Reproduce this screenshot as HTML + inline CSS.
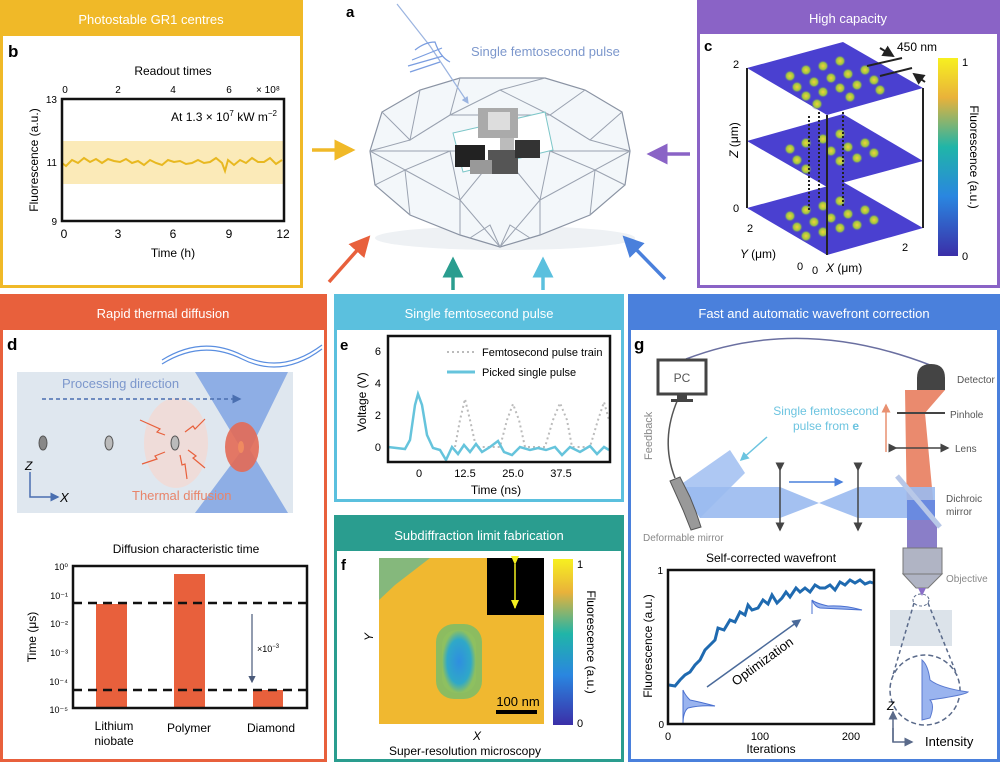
<!DOCTYPE html>
<html><head><meta charset="utf-8"><style>
body{margin:0;background:#fff;}
svg{display:block;font-family:"Liberation Sans",sans-serif;}
</style></head><body>
<svg width="1000" height="762" viewBox="0 0 1000 762" xmlns="http://www.w3.org/2000/svg">
<defs>
<linearGradient id="cb" x1="0" y1="1" x2="0" y2="0">
<stop offset="0" stop-color="#3b2fa8"/><stop offset="0.3" stop-color="#2a86e0"/><stop offset="0.55" stop-color="#20b5a8"/><stop offset="0.8" stop-color="#e9b23a"/><stop offset="1" stop-color="#f7f020"/></linearGradient>
<radialGradient id="dot"><stop offset="0" stop-color="#f2d23a"/><stop offset="0.6" stop-color="#9cc640"/><stop offset="1" stop-color="#3e3cc8" stop-opacity="0"/></radialGradient>
<radialGradient id="blob" cx="0.5" cy="0.5" r="0.5"><stop offset="0" stop-color="#2f8ee0"/><stop offset="0.7" stop-color="#2fa8c8"/><stop offset="1" stop-color="#8ec060"/></radialGradient>
<marker id="ah" markerWidth="6" markerHeight="6" refX="5" refY="3" orient="auto"><path d="M0,0 L6,3 L0,6 z" fill="context-stroke"/></marker>
<marker id="sh" markerWidth="10" markerHeight="10" refX="8" refY="5" orient="auto" markerUnits="userSpaceOnUse"><path d="M0,1 L9,5 L0,9 z" fill="#f4f020"/></marker>
</defs>

<!-- Panel b -->
<rect x="1.5" y="1.5" width="300" height="285" fill="#fff" stroke="#f0b928" stroke-width="3"/>
<rect x="0" y="0" width="303" height="36" fill="#f0b928"/>
<text x="151" y="24" font-size="13" fill="#fff" text-anchor="middle">Photostable GR1 centres</text>
<text x="8" y="57" font-size="17" font-weight="bold">b</text>
<text x="173" y="75" font-size="12" text-anchor="middle">Readout times</text>
<g font-size="10" text-anchor="middle"><text x="65" y="93">0</text><text x="118" y="93">2</text><text x="173" y="93">4</text><text x="229" y="93">6</text><text x="268" y="93">× 10⁸</text></g>
<rect x="62" y="141" width="222" height="43" fill="#fbeab8"/>
<polyline fill="none" stroke="#e8b820" stroke-width="2" points="62,163 66,166 72,160 78,163 84,158 90,162 96,159 102,163 108,159 114,161 120,162 126,159 132,163 138,161 144,165 150,160 156,163 162,165 168,160 174,162 180,161 186,164 192,163 198,160 204,163 210,162 216,158 222,163 225,171 228,160 234,165 240,160 246,163 252,158 258,162 264,162 270,158 276,164 282,160"/>
<rect x="62" y="99" width="222" height="122" fill="none" stroke="#111" stroke-width="2.5"/>
<text x="277" y="121" font-size="12" text-anchor="end">At 1.3 × 10<tspan font-size="8" dy="-5">7</tspan><tspan dy="5"> kW m</tspan><tspan font-size="8" dy="-5">−2</tspan></text>
<g font-size="10" text-anchor="end"><text x="57" y="103">13</text><text x="57" y="166">11</text><text x="57" y="225">9</text></g>
<g font-size="12" text-anchor="middle"><text x="64" y="238">0</text><text x="118" y="238">3</text><text x="173" y="238">6</text><text x="229" y="238">9</text><text x="283" y="238">12</text></g>
<text x="173" y="257" font-size="12" text-anchor="middle">Time (h)</text>
<text transform="translate(38,160) rotate(-90)" font-size="12" text-anchor="middle">Fluorescence (a.u.)</text>

<!-- Panel c -->
<rect x="698.5" y="1.5" width="300" height="285" fill="#fff" stroke="#8a63c6" stroke-width="3"/>
<rect x="697" y="0" width="303" height="34" fill="#8a63c6"/>
<text x="848" y="23" font-size="13" fill="#fff" text-anchor="middle">High capacity</text>
<text x="704" y="51" font-size="15" font-weight="bold">c</text>
<g>
<polygon points="747,208 843,182 923,228 827,255" fill="#4a40d0"/>
<polygon points="747,141 843,114 923,161 827,187" fill="#4a40d0"/>
<polygon points="747,68 843,42 923,88 827,115" fill="#4a40d0"/>
</g>
<g fill="url(#dot)">
<circle cx="790" cy="76" r="6"/><circle cx="806" cy="70" r="6"/><circle cx="823" cy="66" r="6"/><circle cx="840" cy="61" r="6"/>
<circle cx="797" cy="87" r="6"/><circle cx="814" cy="82" r="6"/><circle cx="831" cy="78" r="6"/><circle cx="848" cy="74" r="6"/><circle cx="865" cy="70" r="6"/>
<circle cx="806" cy="96" r="6"/><circle cx="823" cy="92" r="6"/><circle cx="840" cy="88" r="6"/><circle cx="857" cy="85" r="6"/><circle cx="874" cy="80" r="6"/>
<circle cx="817" cy="104" r="6"/><circle cx="850" cy="97" r="6"/><circle cx="880" cy="90" r="6"/>
<circle cx="790" cy="149" r="6"/><circle cx="806" cy="143" r="6"/><circle cx="823" cy="139" r="6"/><circle cx="840" cy="134" r="6"/>
<circle cx="797" cy="160" r="6"/><circle cx="831" cy="151" r="6"/><circle cx="848" cy="147" r="6"/><circle cx="865" cy="143" r="6"/>
<circle cx="806" cy="169" r="6"/><circle cx="840" cy="161" r="6"/><circle cx="857" cy="158" r="6"/><circle cx="874" cy="153" r="6"/>
<circle cx="790" cy="216" r="6"/><circle cx="806" cy="210" r="6"/><circle cx="823" cy="206" r="6"/><circle cx="840" cy="201" r="6"/>
<circle cx="797" cy="227" r="6"/><circle cx="814" cy="222" r="6"/><circle cx="831" cy="218" r="6"/><circle cx="848" cy="214" r="6"/><circle cx="865" cy="210" r="6"/>
<circle cx="806" cy="236" r="6"/><circle cx="823" cy="232" r="6"/><circle cx="840" cy="228" r="6"/><circle cx="857" cy="225" r="6"/><circle cx="874" cy="220" r="6"/>
</g>
<g stroke="#222" stroke-width="2" fill="none">
<line x1="747" y1="68" x2="747" y2="208"/><line x1="827" y1="115" x2="827" y2="255"/><line x1="923" y1="88" x2="923" y2="228"/>
<line x1="809" y1="116" x2="809" y2="210" stroke-dasharray="2 2"/><line x1="819" y1="112" x2="819" y2="200" stroke-dasharray="2 2"/><line x1="843" y1="112" x2="843" y2="208" stroke-dasharray="2 2"/>
<line x1="867" y1="66" x2="902" y2="58"/><line x1="880" y1="76" x2="912" y2="68"/>
<line x1="880" y1="48" x2="893" y2="56" marker-end="url(#ah)"/><line x1="925" y1="82" x2="914" y2="74" marker-end="url(#ah)"/>
</g>
<text x="897" y="51" font-size="12">450 nm</text>
<rect x="938" y="58" width="20" height="198" fill="url(#cb)"/>
<g font-size="11"><text x="962" y="66">1</text><text x="962" y="260">0</text><text x="733" y="68">2</text><text x="733" y="212">0</text><text x="747" y="232">2</text><text x="797" y="270">0</text><text x="812" y="274">0</text><text x="902" y="251">2</text></g>
<text x="826" y="272" font-size="12" font-style="italic">X <tspan font-style="normal">(μm)</tspan></text>
<text x="740" y="258" font-size="12" font-style="italic">Y <tspan font-style="normal">(μm)</tspan></text>
<text transform="translate(738,140) rotate(-90)" font-size="12" text-anchor="middle"><tspan font-style="italic">Z</tspan> (μm)</text>
<text transform="translate(970,157) rotate(90)" font-size="12" text-anchor="middle">Fluorescence (a.u.)</text>

<!-- Panel a center -->
<text x="346" y="17" font-size="15" font-weight="bold">a</text>
<ellipse cx="505" cy="238" rx="130" ry="12" fill="#eef1f4"/>
<polygon points="370,151 382,112 420,90 460,78 545,78 585,90 622,112 630,151 625,185 590,215 540,235 500,247 460,235 410,215 375,185" fill="#f3f7fa" stroke="#8a93a3" stroke-width="1.2"/>
<g stroke="#9aa2b0" stroke-width="1" fill="none">
<polyline points="370,151 630,151"/>
<polyline points="382,112 410,140 370,151"/><polyline points="420,90 410,140 450,115 460,78"/><polyline points="450,115 500,90 545,78"/><polyline points="500,90 550,115 585,90"/><polyline points="550,115 590,140 622,112"/><polyline points="590,140 630,151"/>
<polyline points="410,140 450,115 550,115 590,140"/>
<polyline points="375,185 405,170 410,215"/><polyline points="405,170 460,200 460,235"/><polyline points="460,200 500,247 540,200"/><polyline points="540,200 540,235"/><polyline points="540,200 595,170 590,215"/><polyline points="595,170 625,185"/>
<polyline points="370,151 405,170 450,151 460,200 500,151 540,200 550,151 595,170 630,151"/>
<polyline points="470,238 490,225 500,247 510,225 530,238"/>
</g>
<polygon points="453,133 545,112 553,150 463,172" fill="#fff" stroke="#7cc6c8" stroke-width="1"/>
<rect x="478" y="108" width="40" height="30" fill="#aaa"/><rect x="488" y="112" width="22" height="18" fill="#ddd"/>
<rect x="455" y="145" width="30" height="22" fill="#222"/><rect x="488" y="150" width="30" height="24" fill="#555"/><rect x="515" y="140" width="25" height="18" fill="#333"/>
<rect x="470" y="160" width="22" height="14" fill="#999"/><rect x="500" y="138" width="14" height="12" fill="#bbb"/>
<path d="M397,4 L430,46 L468,103" stroke="#9bb4e0" stroke-width="1.2" fill="none" marker-end="url(#ah)"/>
<path d="M415,50 q10,-8 20,-8 q5,15 15,20 M412,60 l30,-12 M408,66 l35,-10 M410,72 l30,-10" stroke="#7a9de0" stroke-width="1.2" fill="none"/>
<text x="471" y="56" font-size="13" fill="#7c97cc">Single femtosecond pulse</text>
<g stroke-width="3.5" fill="none">
<line x1="312" y1="150" x2="352" y2="150" stroke="#f0b928" marker-end="url(#ah)"/>
<line x1="690" y1="154" x2="650" y2="154" stroke="#8a63c6" marker-end="url(#ah)"/>
<line x1="329" y1="282" x2="368" y2="238" stroke="#e8603c" marker-end="url(#ah)"/>
<line x1="453" y1="290" x2="453" y2="260" stroke="#2a9d8f" marker-end="url(#ah)"/>
<line x1="543" y1="290" x2="543" y2="260" stroke="#5bc0de" marker-end="url(#ah)"/>
<line x1="665" y1="279" x2="625" y2="238" stroke="#4a80dc" marker-end="url(#ah)"/>
</g>

<!-- Panel d -->
<rect x="1.5" y="295.5" width="324" height="465" fill="#fff" stroke="#e8603c" stroke-width="3"/>
<rect x="0" y="294" width="327" height="36" fill="#e8603c"/>
<text x="163" y="318" font-size="13" fill="#fff" text-anchor="middle">Rapid thermal diffusion</text>
<text x="7" y="350" font-size="17" font-weight="bold">d</text>
<path d="M162,360 q40,-25 80,-5 q40,20 80,-10 M162,364 q40,-25 80,-5 q40,20 80,-10" stroke="#5a8ee0" stroke-width="1.2" fill="none"/>
<rect x="17" y="372" width="276" height="141" fill="#dfe7ef"/>
<polygon points="195,372 288,372 250,450 288,513 195,513 242,450" fill="#4a80dc" opacity="0.55"/>
<ellipse cx="242" cy="447" rx="17" ry="25" fill="#e36a55" opacity="0.9"/>
<ellipse cx="241" cy="447" rx="3" ry="6" fill="#f08a60"/>
<ellipse cx="176" cy="443" rx="32" ry="45" fill="#f3d9d3" opacity="0.8"/>
<ellipse cx="43" cy="443" rx="4" ry="7" fill="#888" stroke="#555"/>
<ellipse cx="109" cy="443" rx="4" ry="7" fill="#bbb" stroke="#555"/>
<ellipse cx="175" cy="443" rx="4" ry="7" fill="#bbb" stroke="#555"/>
<g stroke="#e8603c" stroke-width="1.2" fill="none">
<path d="M165,435 l-8,-3 l3,-3 l-20,-9"/><path d="M185,432 l8,-6 l2,3 l10,-10"/><path d="M165,452 l-10,4 l2,3 l-15,5"/><path d="M188,450 l8,6 l-3,2 l12,10"/><path d="M180,455 l2,10 l3,-1 l2,15"/>
</g>
<text x="62" y="388" font-size="13" fill="#7c97cc">Processing direction</text>
<line x1="42" y1="399" x2="240" y2="399" stroke="#4a6fb0" stroke-width="1.5" stroke-dasharray="4 3" marker-end="url(#ah)"/>
<text x="132" y="500" font-size="13" fill="#e8846a">Thermal diffusion</text>
<path d="M30,472 L30,497 L58,497" stroke="#4a6fb0" stroke-width="1.5" fill="none" marker-end="url(#ah)"/>
<text x="25" y="470" font-size="12" font-style="italic">Z</text><text x="60" y="502" font-size="13" font-style="italic">X</text>
<text x="186" y="553" font-size="12" text-anchor="middle">Diffusion characteristic time</text>
<rect x="96" y="604" width="31" height="104" fill="#e8603c"/>
<rect x="174" y="574" width="31" height="134" fill="#e8603c"/>
<rect x="253" y="690" width="30" height="18" fill="#e8603c"/>
<rect x="73" y="566" width="234" height="142" fill="none" stroke="#111" stroke-width="2.5"/>
<line x1="73" y1="603" x2="307" y2="603" stroke="#111" stroke-width="2.5" stroke-dasharray="9 6"/>
<line x1="73" y1="690" x2="307" y2="690" stroke="#111" stroke-width="2.5" stroke-dasharray="9 6"/>
<line x1="252" y1="614" x2="252" y2="682" stroke="#4a5a7a" stroke-width="1.2" marker-end="url(#ah)"/>
<text x="257" y="652" font-size="9">×10<tspan font-size="6" dy="-4">−3</tspan></text>
<g font-size="9" text-anchor="end"><text x="68" y="570">10⁰</text><text x="68" y="599">10⁻¹</text><text x="68" y="627">10⁻²</text><text x="68" y="656">10⁻³</text><text x="68" y="685">10⁻⁴</text><text x="68" y="713">10⁻⁵</text></g>
<text transform="translate(36,637) rotate(-90)" font-size="12" text-anchor="middle">Time (μs)</text>
<g font-size="12" text-anchor="middle"><text x="114" y="730">Lithium</text><text x="114" y="745">niobate</text><text x="189" y="732">Polymer</text><text x="271" y="732">Diamond</text></g>

<!-- Panel e -->
<rect x="335.5" y="295.5" width="287" height="205" fill="#fff" stroke="#5bc0de" stroke-width="3"/>
<rect x="334" y="294" width="290" height="36" fill="#5bc0de"/>
<text x="479" y="318" font-size="13" fill="#fff" text-anchor="middle">Single femtosecond pulse</text>
<text x="340" y="350" font-size="15" font-weight="bold">e</text>
<polyline fill="none" stroke="#bbb" stroke-width="2" stroke-dasharray="2 3" points="455,447 460,420 465,399 470,420 476,447 490,447 500,447 507,420 513,404 519,420 525,447 545,447 553,420 560,403 567,420 572,447 590,447 598,420 604,402 609,420"/>
<polyline fill="none" stroke="#66c4dc" stroke-width="2.5" points="388,447 405,449 410,440 415,405 418,394 422,405 427,435 433,448 440,450 446,460 452,447 458,454 464,445 470,452 476,444 482,452 490,447 498,441 504,452 512,455 520,447 530,450 538,448 546,450 555,447 562,455 570,447 580,452 590,446 597,454 604,447 609,450"/>
<rect x="388" y="336" width="222" height="126" fill="none" stroke="#111" stroke-width="2.5"/>
<line x1="447" y1="352" x2="475" y2="352" stroke="#bbb" stroke-width="2" stroke-dasharray="2 3"/>
<line x1="447" y1="372" x2="475" y2="372" stroke="#66c4dc" stroke-width="3"/>
<text x="482" y="356" font-size="11">Femtosecond pulse train</text>
<text x="482" y="376" font-size="11">Picked single pulse</text>
<g font-size="11" text-anchor="end"><text x="381" y="355">6</text><text x="381" y="387">4</text><text x="381" y="419">2</text><text x="381" y="451">0</text></g>
<g font-size="11" text-anchor="middle"><text x="419" y="477">0</text><text x="465" y="477">12.5</text><text x="513" y="477">25.0</text><text x="561" y="477">37.5</text></g>
<text x="496" y="494" font-size="12" text-anchor="middle">Time (ns)</text>
<text transform="translate(366,402) rotate(-90)" font-size="12" text-anchor="middle">Voltage (V)</text>

<!-- Panel f -->
<rect x="335.5" y="516.5" width="287" height="244" fill="#fff" stroke="#2a9d8f" stroke-width="3"/>
<rect x="334" y="515" width="290" height="36" fill="#2a9d8f"/>
<text x="479" y="540" font-size="13" fill="#fff" text-anchor="middle">Subdiffraction limit fabrication</text>
<text x="341" y="570" font-size="15" font-weight="bold">f</text>
<rect x="379" y="558" width="165" height="166" fill="#f0b830"/>
<polygon points="379,558 430,558 395,585 379,600" fill="#6ab890" opacity="0.8"/>
<rect x="436" y="624" width="46" height="75" rx="18" fill="#8cbc60"/>
<rect x="442" y="630" width="34" height="63" rx="15" fill="url(#blob)"/>
<rect x="487" y="558" width="57" height="57" fill="#000"/>
<line x1="515" y1="564" x2="515" y2="608" stroke="#f4f020" stroke-width="1.5" marker-end="url(#sh)" marker-start="url(#sh)"/>
<text x="518" y="706" font-size="13" text-anchor="middle">100 nm</text>
<rect x="496" y="710" width="41" height="4" fill="#000"/>
<rect x="553" y="559" width="20" height="166" fill="url(#cb)"/>
<text x="577" y="568" font-size="11">1</text><text x="577" y="727" font-size="11">0</text>
<text transform="translate(587,642) rotate(90)" font-size="12" text-anchor="middle">Fluorescence (a.u.)</text>
<text x="369" y="645" font-size="12" font-style="italic" transform="rotate(-90,369,641)">Y</text>
<text x="473" y="740" font-size="12" font-style="italic">X</text>
<text x="465" y="755" font-size="12" text-anchor="middle">Super-resolution microscopy</text>

<!-- Panel g -->
<rect x="629.5" y="295.5" width="369" height="465" fill="#fff" stroke="#4a80dc" stroke-width="3"/>
<rect x="628" y="294" width="372" height="36" fill="#4a80dc"/>
<text x="814" y="318" font-size="13" fill="#fff" text-anchor="middle">Fast and automatic wavefront correction</text>
<text x="634" y="350" font-size="17" font-weight="bold">g</text>
<path d="M686,359 Q800,315 930,365" stroke="#6a6fa0" stroke-width="1.5" fill="none"/>
<path d="M678,399 Q660,440 675,478" stroke="#555" stroke-width="1.5" fill="none"/>
<text transform="translate(652,460) rotate(-90)" font-size="11" fill="#888">Feedback</text>
<rect x="658" y="360" width="48" height="34" fill="#fff" stroke="#444" stroke-width="3"/>
<text x="682" y="382" font-size="12" fill="#555" text-anchor="middle">PC</text>
<rect x="677" y="394" width="10" height="6" fill="#444"/><rect x="671" y="399" width="22" height="3" fill="#444"/>
<path d="M917,390 L917,378 Q917,364 931,364 Q945,364 945,378 L945,390 Z" fill="#444"/>
<text x="957" y="383" font-size="10" fill="#555">Detector</text>
<polygon points="905,390 945,390 925,413 935,520 907,520" fill="#ea8a6e"/>
<polygon points="910,390 940,390 925,413" fill="#ea8a6e"/>
<line x1="897" y1="413" x2="945" y2="413" stroke="#444" stroke-width="2"/>
<text x="950" y="418" font-size="10" fill="#555">Pinhole</text>
<line x1="896" y1="448" x2="948" y2="448" stroke="#444" stroke-width="1.5" marker-end="url(#ah)" marker-start="url(#ah)"/>
<text x="955" y="452" font-size="10" fill="#555">Lens</text>
<line x1="886" y1="452" x2="886" y2="405" stroke="#e89070" stroke-width="1.5" marker-end="url(#ah)"/>
<polygon points="680,487 780,487 819,503 858,487 935,487 935,518 858,518 819,503 780,518 700,518" fill="#9abaf0" opacity="0.9"/>
<polygon points="680,485 730,450 745,473 700,518" fill="#9abaf0" opacity="0.8"/>
<polygon points="907,520 937,520 937,548 907,548" fill="#8a7ec8"/>
<polygon points="907,500 935,500 935,520 907,520" fill="#6a8ae0"/>
<line x1="897" y1="476" x2="940" y2="527" stroke="#b8c8e8" stroke-width="5"/>
<text x="946" y="502" font-size="10" fill="#555">Dichroic</text><text x="946" y="515" font-size="10" fill="#555">mirror</text>
<path d="M670,481 l10,-4 l10,20 l6,15 l5,15 l-10,3 l-8,-20 z" fill="#999" stroke="#555"/>
<text x="643" y="541" font-size="10" fill="#888">Deformable mirror</text>
<line x1="780" y1="470" x2="780" y2="530" stroke="#444" stroke-width="1.5" marker-end="url(#ah)" marker-start="url(#ah)"/>
<line x1="858" y1="470" x2="858" y2="530" stroke="#444" stroke-width="1.5" marker-end="url(#ah)" marker-start="url(#ah)"/>
<line x1="789" y1="482" x2="842" y2="482" stroke="#4a80dc" stroke-width="1.5" marker-end="url(#ah)"/>
<text x="826" y="415" font-size="12" fill="#6cc4e0" text-anchor="middle">Single femtosecond</text>
<text x="826" y="430" font-size="12" fill="#6cc4e0" text-anchor="middle">pulse from <tspan font-weight="bold">e</tspan></text>
<line x1="767" y1="437" x2="741" y2="460" stroke="#6cc4e0" stroke-width="1.5" marker-end="url(#ah)"/>
<rect x="903" y="548" width="39" height="26" fill="#b0b4c4" stroke="#777"/>
<polygon points="903,574 942,574 928,588 916,588" fill="#b0b4c4" stroke="#777"/>
<polygon points="918,588 926,588 922,596" fill="#8a6ec8"/>
<text x="946" y="582" font-size="10" fill="#888">Objective</text>
<rect x="890" y="610" width="62" height="36" fill="#dce3ea"/>
<ellipse cx="921" cy="600" rx="8" ry="6" fill="none" stroke="#5a6a8a" stroke-dasharray="3 2"/>
<line x1="914" y1="603" x2="893" y2="675" stroke="#5a6a8a" stroke-width="1.5" stroke-dasharray="4 3"/>
<line x1="928" y1="603" x2="957" y2="675" stroke="#5a6a8a" stroke-width="1.5" stroke-dasharray="4 3"/>
<circle cx="925" cy="690" r="35" fill="#fff" stroke="#5a6a8a" stroke-width="1.5" stroke-dasharray="5 3"/>
<path d="M922,660 L922,720 L930,718 Q935,705 930,700 Q965,695 968,692 Q940,688 930,680 Q928,665 922,660 Z" fill="#9ab4ef" stroke="#5a7ad0"/>
<path d="M893,728 L893,742 L912,742" stroke="#5a6a8a" stroke-width="1.5" fill="none" marker-end="url(#ah)"/>
<line x1="893" y1="742" x2="893" y2="712" stroke="#5a6a8a" stroke-width="1.5" marker-end="url(#ah)"/>
<text x="887" y="710" font-size="12" font-style="italic">Z</text>
<text x="925" y="746" font-size="13">Intensity</text>
<text x="771" y="562" font-size="12" text-anchor="middle">Self-corrected wavefront</text>
<polyline fill="none" stroke="#1f6ab0" stroke-width="3" points="669,685 675,686 680,680 685,675 690,672 695,665 700,660 705,650 710,645 715,640 718,628 724,630 730,620 735,622 740,612 745,615 748,605 752,610 758,608 763,600 768,604 772,595 777,603 782,598 786,592 790,597 796,588 800,592 805,588 810,592 815,585 820,588 825,588 830,585 835,590 840,582 845,585 850,580 855,583 860,580 865,584 870,582 873,583"/>
<path d="M683,690 L683,724 Q683,712 688,708 Q700,705 715,706 Q700,702 690,700 Q685,695 683,690 Z" fill="#9ab4ef" stroke="#4a70d0"/>
<path d="M812,614 L812,600 Q815,607 820,608 L862,610 Q845,605 828,606 Q815,603 812,600" fill="#9ab4ef" stroke="#4a70d0"/>
<line x1="707" y1="687" x2="800" y2="620" stroke="#4a6a9a" stroke-width="1.5" marker-end="url(#ah)"/>
<text transform="translate(765,665) rotate(-36)" font-size="13" text-anchor="middle">Optimization</text>
<rect x="668" y="570" width="206" height="154" fill="none" stroke="#111" stroke-width="2.5"/>
<text x="663" y="574" font-size="10" text-anchor="end">1</text><text x="664" y="728" font-size="10" text-anchor="end">0</text>
<g font-size="11" text-anchor="middle"><text x="668" y="740">0</text><text x="760" y="740">100</text><text x="851" y="740">200</text></g>
<text x="771" y="753" font-size="12" text-anchor="middle">Iterations</text>
<text transform="translate(652,646) rotate(-90)" font-size="12" text-anchor="middle">Fluorescence (a.u.)</text>
</svg>
</body></html>
